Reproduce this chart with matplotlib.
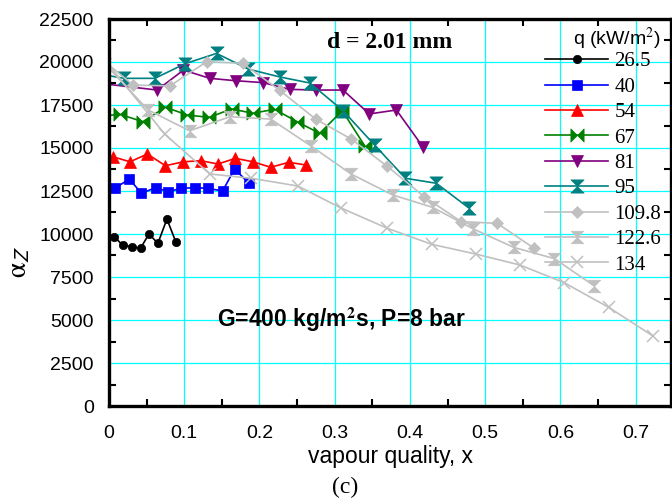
import matplotlib
matplotlib.use("Agg")
import matplotlib.pyplot as plt
from matplotlib.path import Path
from matplotlib.ticker import MultipleLocator

plt.rcParams["mathtext.fontset"] = "stix"

# ---- data ----
labels = ["26.5", "40", "54", "67", "81", "95", "109.8", "122.6", "134"]

x26 = [0.007, 0.018, 0.030, 0.042, 0.053, 0.065, 0.077, 0.089]
y26 = [9840, 9360, 9260, 9170, 10000, 9460, 10870, 9520]

x40 = [0.008, 0.027, 0.043, 0.062, 0.079, 0.096, 0.114, 0.131, 0.151, 0.167, 0.186]
y40 = [12660, 13200, 12370, 12690, 12460, 12660, 12690, 12660, 12500, 13780, 12950]

x54 = [0.005, 0.028, 0.051, 0.075, 0.099, 0.122, 0.145, 0.168, 0.191, 0.215, 0.239, 0.262]
y54 = [14490, 14200, 14650, 13970, 14200, 14260, 14070, 14400, 14200, 13880, 14170, 14010]

x67 = [-0.015, 0.015, 0.045, 0.075, 0.104, 0.133, 0.163, 0.191, 0.220, 0.250, 0.280, 0.310, 0.340]
y67 = [16850, 16950, 16530, 17370, 16920, 16780, 17270, 17020, 17250, 16530, 15850, 17170, 15120]

x81 = [-0.020, 0.064, 0.099, 0.134, 0.169, 0.205, 0.240, 0.275, 0.311, 0.346, 0.382, 0.417]
y81 = [18800, 18370, 19530, 19050, 18910, 18800, 18410, 18370, 18370, 16980, 17210, 15080]

x95 = [-0.022, 0.020, 0.061, 0.101, 0.143, 0.185, 0.227, 0.267, 0.311, 0.353, 0.394, 0.435, 0.479]
y95 = [19370, 19050, 19050, 19900, 20500, 19590, 19130, 18780, 17170, 15170, 13240, 12950, 11490]

x109 = [-0.017, 0.032, 0.081, 0.130, 0.178, 0.227, 0.275, 0.322, 0.370, 0.419, 0.468, 0.516, 0.565]
y109 = [20440, 18660, 18610, 20020, 19920, 18350, 16670, 15520, 13930, 12170, 10720, 10620, 9170]

x122 = [-0.005, 0.052, 0.107, 0.161, 0.215, 0.269, 0.322, 0.377, 0.430, 0.484, 0.538, 0.592, 0.645]
y122 = [19870, 17210, 16000, 16820, 16680, 15100, 13480, 12270, 11550, 10300, 9220, 8570, 6980]

x134 = [-0.044, 0.074, 0.134, 0.189, 0.251, 0.308, 0.370, 0.429, 0.488, 0.546, 0.605, 0.664, 0.723]
y134 = [22200, 15810, 13490, 13240, 12790, 11520, 10330, 9400, 8830, 8200, 7170, 5740, 4070]

xs = [x26, x40, x54, x67, x81, x95, x109, x122, x134]
ys = [y26, y40, y54, y67, y81, y95, y109, y122, y134]

# ---- styles ----
bowtie = Path([(-1, -1), (1, 1), (1, -1), (-1, 1), (-1, -1)],
              [Path.MOVETO, Path.LINETO, Path.LINETO, Path.LINETO, Path.CLOSEPOLY])
hourglass = Path([(-1, 1), (1, 1), (-1, -1), (1, -1), (-1, 1)],
                 [Path.MOVETO, Path.LINETO, Path.LINETO, Path.LINETO, Path.CLOSEPOLY])

grey = "#c0c0c0"
styles = [
    dict(color="black", marker="o", ms=6),
    dict(color="#0000ff", marker="s", ms=7.5),
    dict(color="#ff0000", marker="^", ms=8.5),
    dict(color="#008000", marker=bowtie, ms=9.5),
    dict(color="#800080", marker="v", ms=9),
    dict(color="#008080", marker=hourglass, ms=9.5),
    dict(color=grey, marker="D", ms=6),
    dict(color=grey, marker=hourglass, ms=9),
    dict(color=grey, marker="x", ms=8, mew=1.1),
]

fig = plt.figure(figsize=(6.72, 4.98), dpi=100)
ax = fig.add_axes([109 / 672, 1 - 406 / 498, (671 - 109) / 672, (406 - 19) / 498])

for x, y, lab, st in zip(xs, ys, labels, styles):
    st = dict(st)
    c = st.pop("color")
    mk = st.pop("marker")
    ms = st.pop("ms")
    mew = st.pop("mew", 0.5)
    ax.plot(x, y, color=c, marker=mk, markersize=ms, markerfacecolor=c,
            markeredgecolor=c, markeredgewidth=mew, linewidth=1.2, label=lab)

ax.set_xlim(0, 0.747)
ax.set_ylim(0, 22500)
ax.xaxis.set_major_locator(MultipleLocator(0.1))
ax.xaxis.set_minor_locator(MultipleLocator(0.05))
ax.yaxis.set_major_locator(MultipleLocator(2500))
ax.yaxis.set_minor_locator(MultipleLocator(1250))
ax.set_xticks([0, 0.1, 0.2, 0.3, 0.4, 0.5, 0.6, 0.7])
ax.set_xticklabels(["0", "0.1", "0.2", "0.3", "0.4", "0.5", "0.6", "0.7"])

ax.grid(True, which="major", color="#00ffff", linewidth=0.9)
ax.set_axisbelow(True)
for sp in ax.spines.values():
    sp.set_linewidth(2.4)

ax.tick_params(which="major", length=0, labelsize=14, pad=11)
ax.tick_params(axis="x", which="major", pad=14)
ax.tick_params(which="minor", direction="in", length=5, width=1.5,
               top=True, right=True, bottom=True, left=True)
for t in ax.get_xticklabels() + ax.get_yticklabels():
    t.set_fontfamily("Liberation Sans")

ax.set_xlabel("vapour quality, x", fontsize=16.5, fontfamily="Liberation Sans", labelpad=2)
fig.text(18 / 672, 1 - 262 / 498, r"$\mathrm{\alpha}_{\mathsf{Z}}$", rotation=90,
         fontsize=20, ha="center", va="center")

fig.text(345 / 672, 1 - 487 / 498, "(c)", fontsize=17, fontfamily="Liberation Serif",
         ha="center", va="center")

ax.text((390 - 109) / 562, (406 - 42) / 387, "d = 2.01 mm", transform=ax.transAxes,
        fontsize=17, fontweight="bold", fontfamily="Liberation Serif",
        ha="center", va="center")
ax.text((341 - 109) / 562, (406 - 320) / 387, r"G=400 kg/m$^{\mathbf{2}}$s, P=8 bar",
        transform=ax.transAxes, fontsize=16.5, fontweight="bold",
        fontfamily="Liberation Sans", ha="center", va="center")

leg = ax.legend(loc="upper right", bbox_to_anchor=(1.005, 1.015), frameon=False,
                prop={"family": "Liberation Serif", "size": 15},
                title="q (kW/m$^2$)", title_fontproperties={"family": "Liberation Sans", "size": 14},
                handlelength=3.05, handletextpad=0.3, labelspacing=0.28,
                borderpad=0.1, alignment="right")
leg._legend_box.sep = 0

fig.savefig("out.png", dpi=100)
